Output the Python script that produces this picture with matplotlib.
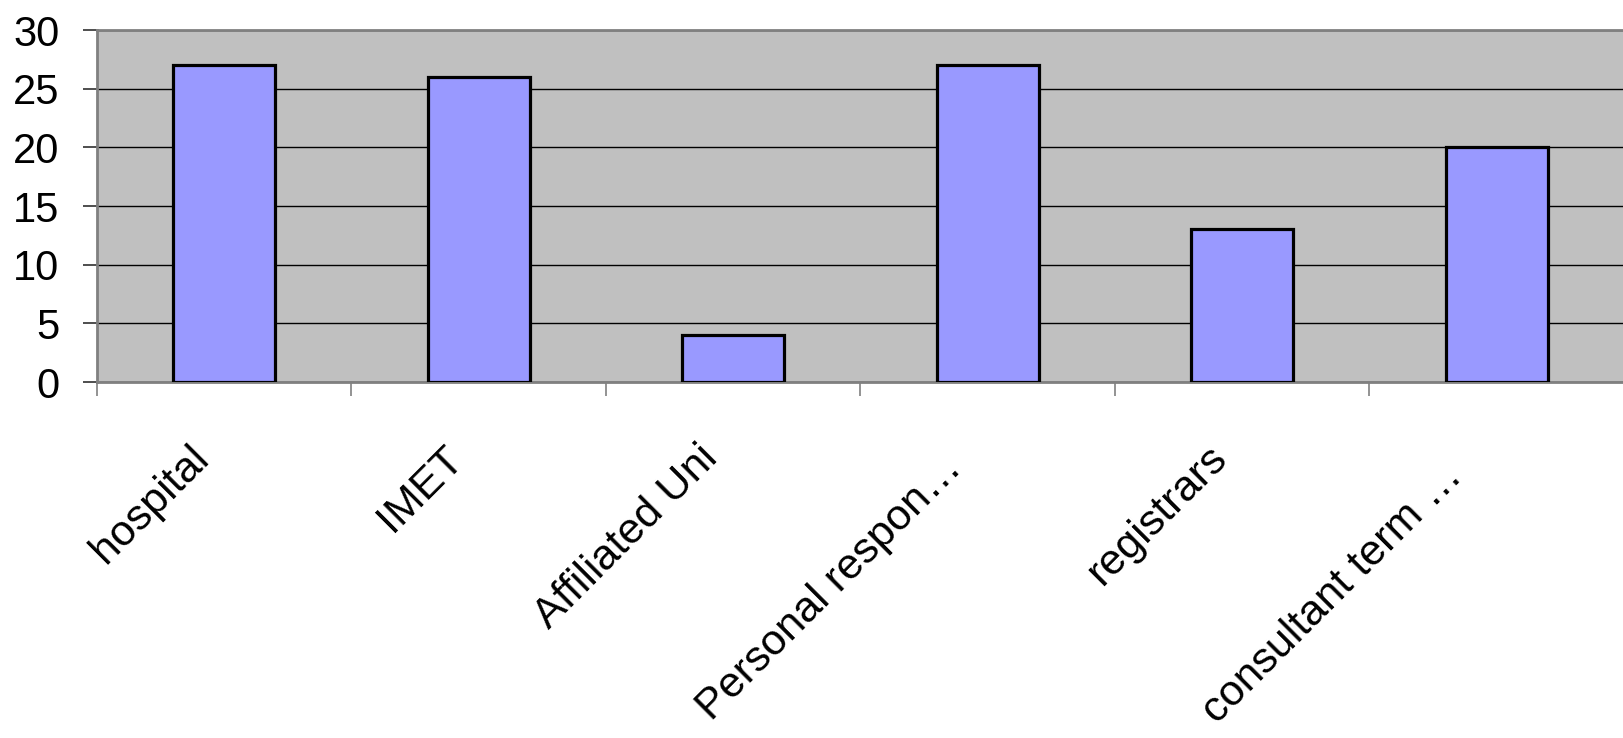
import matplotlib
matplotlib.use("Agg")
import matplotlib.pyplot as plt
import matplotlib.transforms as mtransforms
import numpy as np

# chart data
categories = ["hospital", "IMET", "Affiliated Uni", "Personal respon\u2026",
              "registrars", "consultant term \u2026"]
counts = [27, 26, 4, 27, 13, 20]
y_ticks = [0, 5, 10, 15, 20, 25, 30]

# label layout: extra slide (px) along the 45 degree direction for each label
label_slide = [0, 0, 0, 14, 0, 26]

plt.rcParams['font.family'] = ['Liberation Sans', 'DejaVu Sans']

fig = plt.figure(figsize=(16.24, 7.38), dpi=100)
ax = fig.add_axes([97 / 1624, 356 / 738, 1527 / 1624, 352 / 738])
ax.set_facecolor('#C0C0C0')

x = np.arange(len(categories))
ax.bar(x, counts, width=0.4, color='#9999FF', edgecolor='black',
       linewidth=2.3, zorder=3)

ax.set_xlim(-0.5, len(categories) - 0.5)
ax.set_ylim(0, 30)
ax.set_yticks(y_ticks)
ax.set_yticklabels([str(v) for v in y_ticks], fontsize=30)
ax.yaxis.grid(True, color='black', linewidth=1.0, zorder=1)
ax.set_axisbelow(True)

# category boundary ticks, labels are placed separately
ax.set_xticks(np.arange(-0.5, len(categories) - 0.5, 1.0))
ax.set_xticklabels([])
ax.tick_params(axis='x', direction='out', length=10, width=1.2, color='#808080')
ax.tick_params(axis='y', direction='out', length=10, width=1.2, color='#303030',
               pad=17)

for side in ['left', 'top', 'bottom']:
    ax.spines[side].set_color('#808080')
    ax.spines[side].set_linewidth(2)
ax.spines['right'].set_visible(False)

# rotated category labels, anchored below each category
base = mtransforms.blended_transform_factory(ax.transData, ax.transAxes)
for i, name in enumerate(categories):
    s = label_slide[i] * 0.707
    off = mtransforms.ScaledTranslation((-14 - s) / 100, (-78 - s) / 100,
                                        fig.dpi_scale_trans)
    ax.text(i, 0, name, transform=base + off, rotation=45,
            rotation_mode='anchor', ha='right', va='baseline', fontsize=31)

fig.savefig('out.png', dpi=100)
